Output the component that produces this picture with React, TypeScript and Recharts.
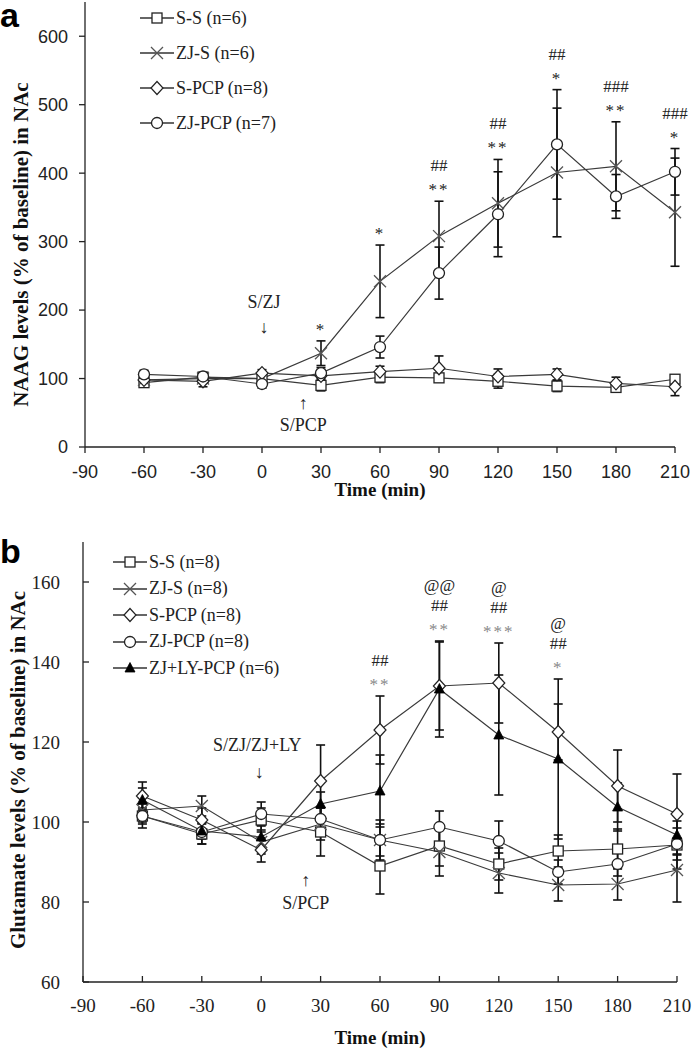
import { ErrorBar, Legend, Line, LineChart, ReferenceDot, XAxis, YAxis } from "recharts";

const serif = '"Liberation Serif", "Times New Roman", serif';
const sans = '"Liberation Sans", Arial, sans-serif';

const times = [-60, -30, 0, 30, 60, 90, 120, 150, 180, 210];
const xTicks = [-90, -60, -30, 0, 30, 60, 90, 120, 150, 180, 210];

// (a) NAAG levels (% of baseline) in NAc
const naagTicks = [0, 100, 200, 300, 400, 500, 600];
const naagSS = [94, 102, 100, 90, 102, 101, 96, 89, 87, 99];
const naagSSErr = [5, 5, 5, 8, 8, 6, 10, 8, 6, 6];
const naagZJS = [98, 100, 100, 137, 242, 308, 356, 401, 410, 343];
const naagZJSErr = [5, 6, 6, 18, 53, 51, 64, 94, 65, 79];
const naagSPCP = [98, 96, 108, 104, 110, 115, 103, 106, 93, 88];
const naagSPCPErr = [6, 8, 5, 8, 8, 18, 11, 8, 9, 13];
const naagZJPCP = [106, 103, 92, 108, 146, 254, 340, 442, 366, 402];
const naagZJPCPErr = [6, 6, 6, 8, 16, 38, 62, 80, 32, 34];

// (b) Glutamate levels (% of baseline) in NAc
const gluTicks = [60, 80, 100, 120, 140, 160];
const gluSS = [101.5, 97, 100.5, 97.5, 89, 94, 89.5, 92.75, 93.25, 94.25];
const gluSSErr = [2, 2.5, 3, 6, 7, 5, 4, 4, 5, 6];
const gluZJS = [103, 104, 95, 99.5, 95.5, 92.5, 87.25, 84.25, 84.5, 88];
const gluZJSErr = [3, 2.5, 3, 4, 5, 6, 5, 4, 4, 8];
const gluSPCP = [106.5, 100.5, 93, 110.25, 123, 134, 134.75, 122.5, 109, 102];
const gluSPCPErr = [3.5, 3, 3, 9, 8.5, 11, 10, 7, 9, 10];
const gluZJPCP = [101.5, 97.5, 102, 100.75, 95.5, 98.75, 95.25, 87.5, 89.5, 94.5];
const gluZJPCPErr = [3, 3, 3, 3, 4, 4, 5, 3, 3, 4];
const gluZJLY = [105.5, 97.75, 96.25, 104.5, 107.75, 133.25, 121.75, 115.75, 103.75, 96.75];
const gluZJLYErr = [3, 2, 3, 3, 9, 12, 15, 20, 6, 5];

// significance marks, listed bottom to top
const naagSig = [
  { t: 30, marks: ["*"] },
  { t: 60, marks: ["*"] },
  { t: 90, marks: ["**", "##"] },
  { t: 120, marks: ["**", "##"] },
  { t: 150, marks: ["*", "##"] },
  { t: 180, marks: ["**", "###"] },
  { t: 210, marks: ["*", "###"] }
];
const gluSig = [
  { t: 60, marks: ["**", "##"] },
  { t: 90, marks: ["**", "##", "@@"] },
  { t: 120, marks: ["***", "##", "@"] },
  { t: 150, marks: ["*", "##", "@"] }
];

// injection notes
const naagNotes = [
  { t: 1, v: 212, text: "S/ZJ" },
  { t: 1, v: 175, text: "↓" },
  { t: 21, v: 64, text: "↑" },
  { t: 21, v: 32, text: "S/PCP" }
];
const gluNotes = [
  { t: -2, v: 119.25, text: "S/ZJ/ZJ+LY" },
  { t: -1, v: 112.5, text: "↓" },
  { t: 22.5, v: 85.5, text: "↑" },
  { t: 22.5, v: 79.75, text: "S/PCP" }
];

type Series = {
  key: string;
  name: string;
  marker: string;
  values: number[];
  errors: number[];
};

const naagSeries: Series[] = [
  { key: "ss", name: "S-S (n=6)", marker: "square", values: naagSS, errors: naagSSErr },
  { key: "zjs", name: "ZJ-S (n=6)", marker: "cross", values: naagZJS, errors: naagZJSErr },
  { key: "spcp", name: "S-PCP (n=8)", marker: "diamond", values: naagSPCP, errors: naagSPCPErr },
  { key: "zjpcp", name: "ZJ-PCP (n=7)", marker: "circle", values: naagZJPCP, errors: naagZJPCPErr }
];

const gluSeries: Series[] = [
  { key: "ss", name: "S-S (n=8)", marker: "square", values: gluSS, errors: gluSSErr },
  { key: "zjs", name: "ZJ-S (n=8)", marker: "cross", values: gluZJS, errors: gluZJSErr },
  { key: "spcp", name: "S-PCP (n=8)", marker: "diamond", values: gluSPCP, errors: gluSPCPErr },
  { key: "zjpcp", name: "ZJ-PCP (n=8)", marker: "circle", values: gluZJPCP, errors: gluZJPCPErr },
  { key: "zjly", name: "ZJ+LY-PCP (n=6)", marker: "triangle", values: gluZJLY, errors: gluZJLYErr }
];

function buildRows(series: Series[]) {
  return times.map((t, i) => {
    const row: any = { t };
    series.forEach((s) => {
      row[s.key] = s.values[i];
      row[s.key + "Err"] = s.errors[i];
    });
    return row;
  });
}

function Marker({ kind, cx, cy }: { kind: string; cx: number; cy: number }) {
  if (cx == null || cy == null) return null;
  if (kind === "square") {
    return <rect x={cx - 5} y={cy - 5} width={10} height={10} fill="#fff" stroke="#222" strokeWidth={1.3} />;
  }
  if (kind === "cross") {
    return (
      <path
        d={`M${cx - 6},${cy - 6}L${cx + 6},${cy + 6}M${cx - 6},${cy + 6}L${cx + 6},${cy - 6}`}
        stroke="#555"
        strokeWidth={1.3}
        fill="none"
      />
    );
  }
  if (kind === "diamond") {
    return (
      <path
        d={`M${cx},${cy - 6.5}L${cx + 6},${cy}L${cx},${cy + 6.5}L${cx - 6},${cy}Z`}
        fill="#fff"
        stroke="#222"
        strokeWidth={1.2}
      />
    );
  }
  if (kind === "triangle") {
    return <path d={`M${cx},${cy - 5.5}L${cx + 5},${cy + 4}L${cx - 5},${cy + 4}Z`} fill="#000" stroke="#000" strokeWidth={0.8} />;
  }
  return <circle cx={cx} cy={cy} r={5.5} fill="#fff" stroke="#222" strokeWidth={1.3} />;
}

function LegendBox({ series, rowH }: { series: Series[]; rowH: number }) {
  return (
    <div style={{ fontFamily: serif, fontSize: 18, color: "#222" }}>
      {series.map((s) => (
        <div key={s.key} style={{ display: "flex", alignItems: "center", height: rowH }}>
          <svg width={34} height={16} style={{ display: "block" }}>
            <line x1={0} y1={8} x2={34} y2={8} stroke="#333" strokeWidth={1.3} />
            <Marker kind={s.marker} cx={17} cy={8} />
          </svg>
          <span style={{ marginLeft: 2, whiteSpace: "nowrap" }}>{s.name}</span>
        </div>
      ))}
    </div>
  );
}

function SigLabel({ viewBox, marks, starColor }: any) {
  if (!viewBox) return null;
  const cx = viewBox.x + viewBox.width / 2;
  const cap = viewBox.y + viewBox.height / 2;
  return (
    <g>
      {marks.map((m: string, i: number) => {
        const center = cap - 16 - i * 20;
        const isStar = m.startsWith("*");
        return (
          <text
            key={i}
            x={cx}
            y={center + (isStar ? 10 : 6)}
            textAnchor="middle"
            fontFamily={serif}
            fontSize={17}
            fill={isStar ? starColor : "#222"}
            letterSpacing={isStar ? 2 : 0}
          >
            {m}
          </text>
        );
      })}
    </g>
  );
}

type PanelProps = {
  series: Series[];
  height: number;
  marginTop: number;
  marginRight: number;
  yWidth: number;
  xHeight: number;
  yDomain: number[];
  yTicks: number[];
  tickFont: string;
  tickSize: number;
  tickMarginX: number;
  tickMarginY: number;
  yTitle: string;
  titleX: number;
  titleShift: number;
  xTitleOffset: number;
  letter: string;
  letterY: number;
  legendTop: number;
  legendLeft: number;
  legendRowH: number;
  sig: { t: number; marks: string[] }[];
  starColor: string;
  notes: { t: number; v: number; text: string }[];
};

function Panel(p: PanelProps) {
  const rows = buildRows(p.series);
  const axisStyle = { stroke: "#222", strokeWidth: 1.3 };
  const tick = { fontFamily: p.tickFont, fontSize: p.tickFont === sans ? 18 : 19, fill: "#222" };

  const sigTops = p.sig.map((s) => {
    const i = times.indexOf(s.t);
    return Math.max(...p.series.map((ser) => ser.values[i] + ser.errors[i]));
  });

  return (
    <LineChart
      width={693}
      height={p.height}
      data={rows}
      margin={{ top: p.marginTop, right: p.marginRight, bottom: 0, left: 0 }}
    >
      <XAxis
        dataKey="t"
        type="number"
        domain={[-90, 210]}
        ticks={xTicks}
        interval={0}
        height={p.xHeight}
        tickSize={p.tickSize}
        tickMargin={p.tickMarginX}
        tick={tick}
        axisLine={axisStyle}
        tickLine={axisStyle}
        label={{
          content: (lp: any) => {
            const vb = lp.viewBox;
            if (!vb) return null;
            return (
              <text
                x={vb.x + vb.width / 2}
                y={vb.y + vb.height - p.xTitleOffset}
                textAnchor="middle"
                fontFamily={serif}
                fontWeight="bold"
                fontSize={19}
                fill="#111"
              >
                Time (min)
              </text>
            );
          }
        }}
      />
      <YAxis
        type="number"
        domain={p.yDomain}
        ticks={p.yTicks}
        interval={0}
        width={p.yWidth}
        tickSize={p.tickSize}
        tickMargin={p.tickMarginY}
        tick={tick}
        axisLine={axisStyle}
        tickLine={axisStyle}
        allowDataOverflow
        label={{
          content: (lp: any) => {
            const vb = lp.viewBox;
            if (!vb) return null;
            const cy = vb.y + vb.height / 2 + p.titleShift;
            return (
              <g>
                <text
                  x={p.titleX}
                  y={cy}
                  transform={`rotate(-90, ${p.titleX}, ${cy})`}
                  textAnchor="middle"
                  fontFamily={serif}
                  fontWeight="bold"
                  fontSize={21}
                  fill="#111"
                >
                  {p.yTitle}
                </text>
                <text x={0} y={p.letterY} fontFamily={sans} fontWeight="bold" fontSize={34} fill="#000">
                  {p.letter}
                </text>
              </g>
            );
          }
        }}
      />
      <Legend
        layout="vertical"
        align="center"
        verticalAlign="middle"
        wrapperStyle={{ top: p.legendTop, left: p.legendLeft, width: "auto" }}
        content={() => <LegendBox series={p.series} rowH={p.legendRowH} />}
      />
      {p.series.map((s) => (
        <Line
          key={s.key}
          dataKey={s.key}
          name={s.name}
          stroke="#3a3a3a"
          strokeWidth={1.2}
          activeDot={false}
          isAnimationActive={false}
          dot={(dp: any) => <Marker key={`${s.key}-${dp.index}`} kind={s.marker} cx={dp.cx} cy={dp.cy} />}
        >
          <ErrorBar
            dataKey={s.key + "Err"}
            direction="y"
            width={4.5}
            stroke="#111"
            strokeWidth={1.6}
            isAnimationActive={false}
          />
        </Line>
      ))}
      {p.sig.map((s, i) => (
        <ReferenceDot
          key={`sig-${s.t}`}
          x={s.t}
          y={sigTops[i]}
          r={1}
          fill="none"
          stroke="none"
          label={{
            content: (lp: any) => <SigLabel viewBox={lp.viewBox} marks={s.marks} starColor={p.starColor} />
          }}
        />
      ))}
      {p.notes.map((n, i) => (
        <ReferenceDot
          key={`note-${i}`}
          x={n.t}
          y={n.v}
          r={1}
          fill="none"
          stroke="none"
          label={{
            content: (lp: any) => {
              const vb = lp.viewBox;
              if (!vb) return null;
              return (
                <text
                  x={vb.x + vb.width / 2}
                  y={vb.y + vb.height / 2}
                  textAnchor="middle"
                  dominantBaseline="central"
                  fontFamily={serif}
                  fontSize={18}
                  fill="#222"
                >
                  {n.text}
                </text>
              );
            }
          }}
        />
      ))}
    </LineChart>
  );
}

export default function App() {
  return (
    <div style={{ position: "absolute", left: 0, top: 0, width: 693, height: 1049, background: "#fff" }}>
      <div style={{ position: "absolute", left: 0, top: 0 }}>
        <Panel
          series={naagSeries}
          height={505}
          marginTop={2}
          marginRight={18}
          yWidth={85}
          xHeight={58}
          yDomain={[0, 650]}
          yTicks={naagTicks}
          tickFont={sans}
          tickSize={6}
          tickMarginX={12}
          tickMarginY={11}
          yTitle="NAAG levels (% of baseline) in NAc"
          titleX={28}
          titleShift={20}
          xTitleOffset={9}
          letter="a"
          letterY={27}
          legendTop={0.5}
          legendLeft={140}
          legendRowH={35}
          sig={naagSig}
          starColor="#222"
          notes={naagNotes}
        />
      </div>
      <div style={{ position: "absolute", left: 0, top: 505 }}>
        <Panel
          series={gluSeries}
          height={544}
          marginTop={37}
          marginRight={16}
          yWidth={83}
          xHeight={67}
          yDomain={[60, 170]}
          yTicks={gluTicks}
          tickFont={serif}
          tickSize={-6}
          tickMarginX={23}
          tickMarginY={29}
          yTitle="Glutamate levels (% of baseline) in NAc"
          titleX={25}
          titleShift={8}
          xTitleOffset={5}
          letter="b"
          letterY={58}
          legendTop={43.75}
          legendLeft={113}
          legendRowH={26.5}
          sig={gluSig}
          starColor="#888"
          notes={gluNotes}
        />
      </div>
    </div>
  );
}
